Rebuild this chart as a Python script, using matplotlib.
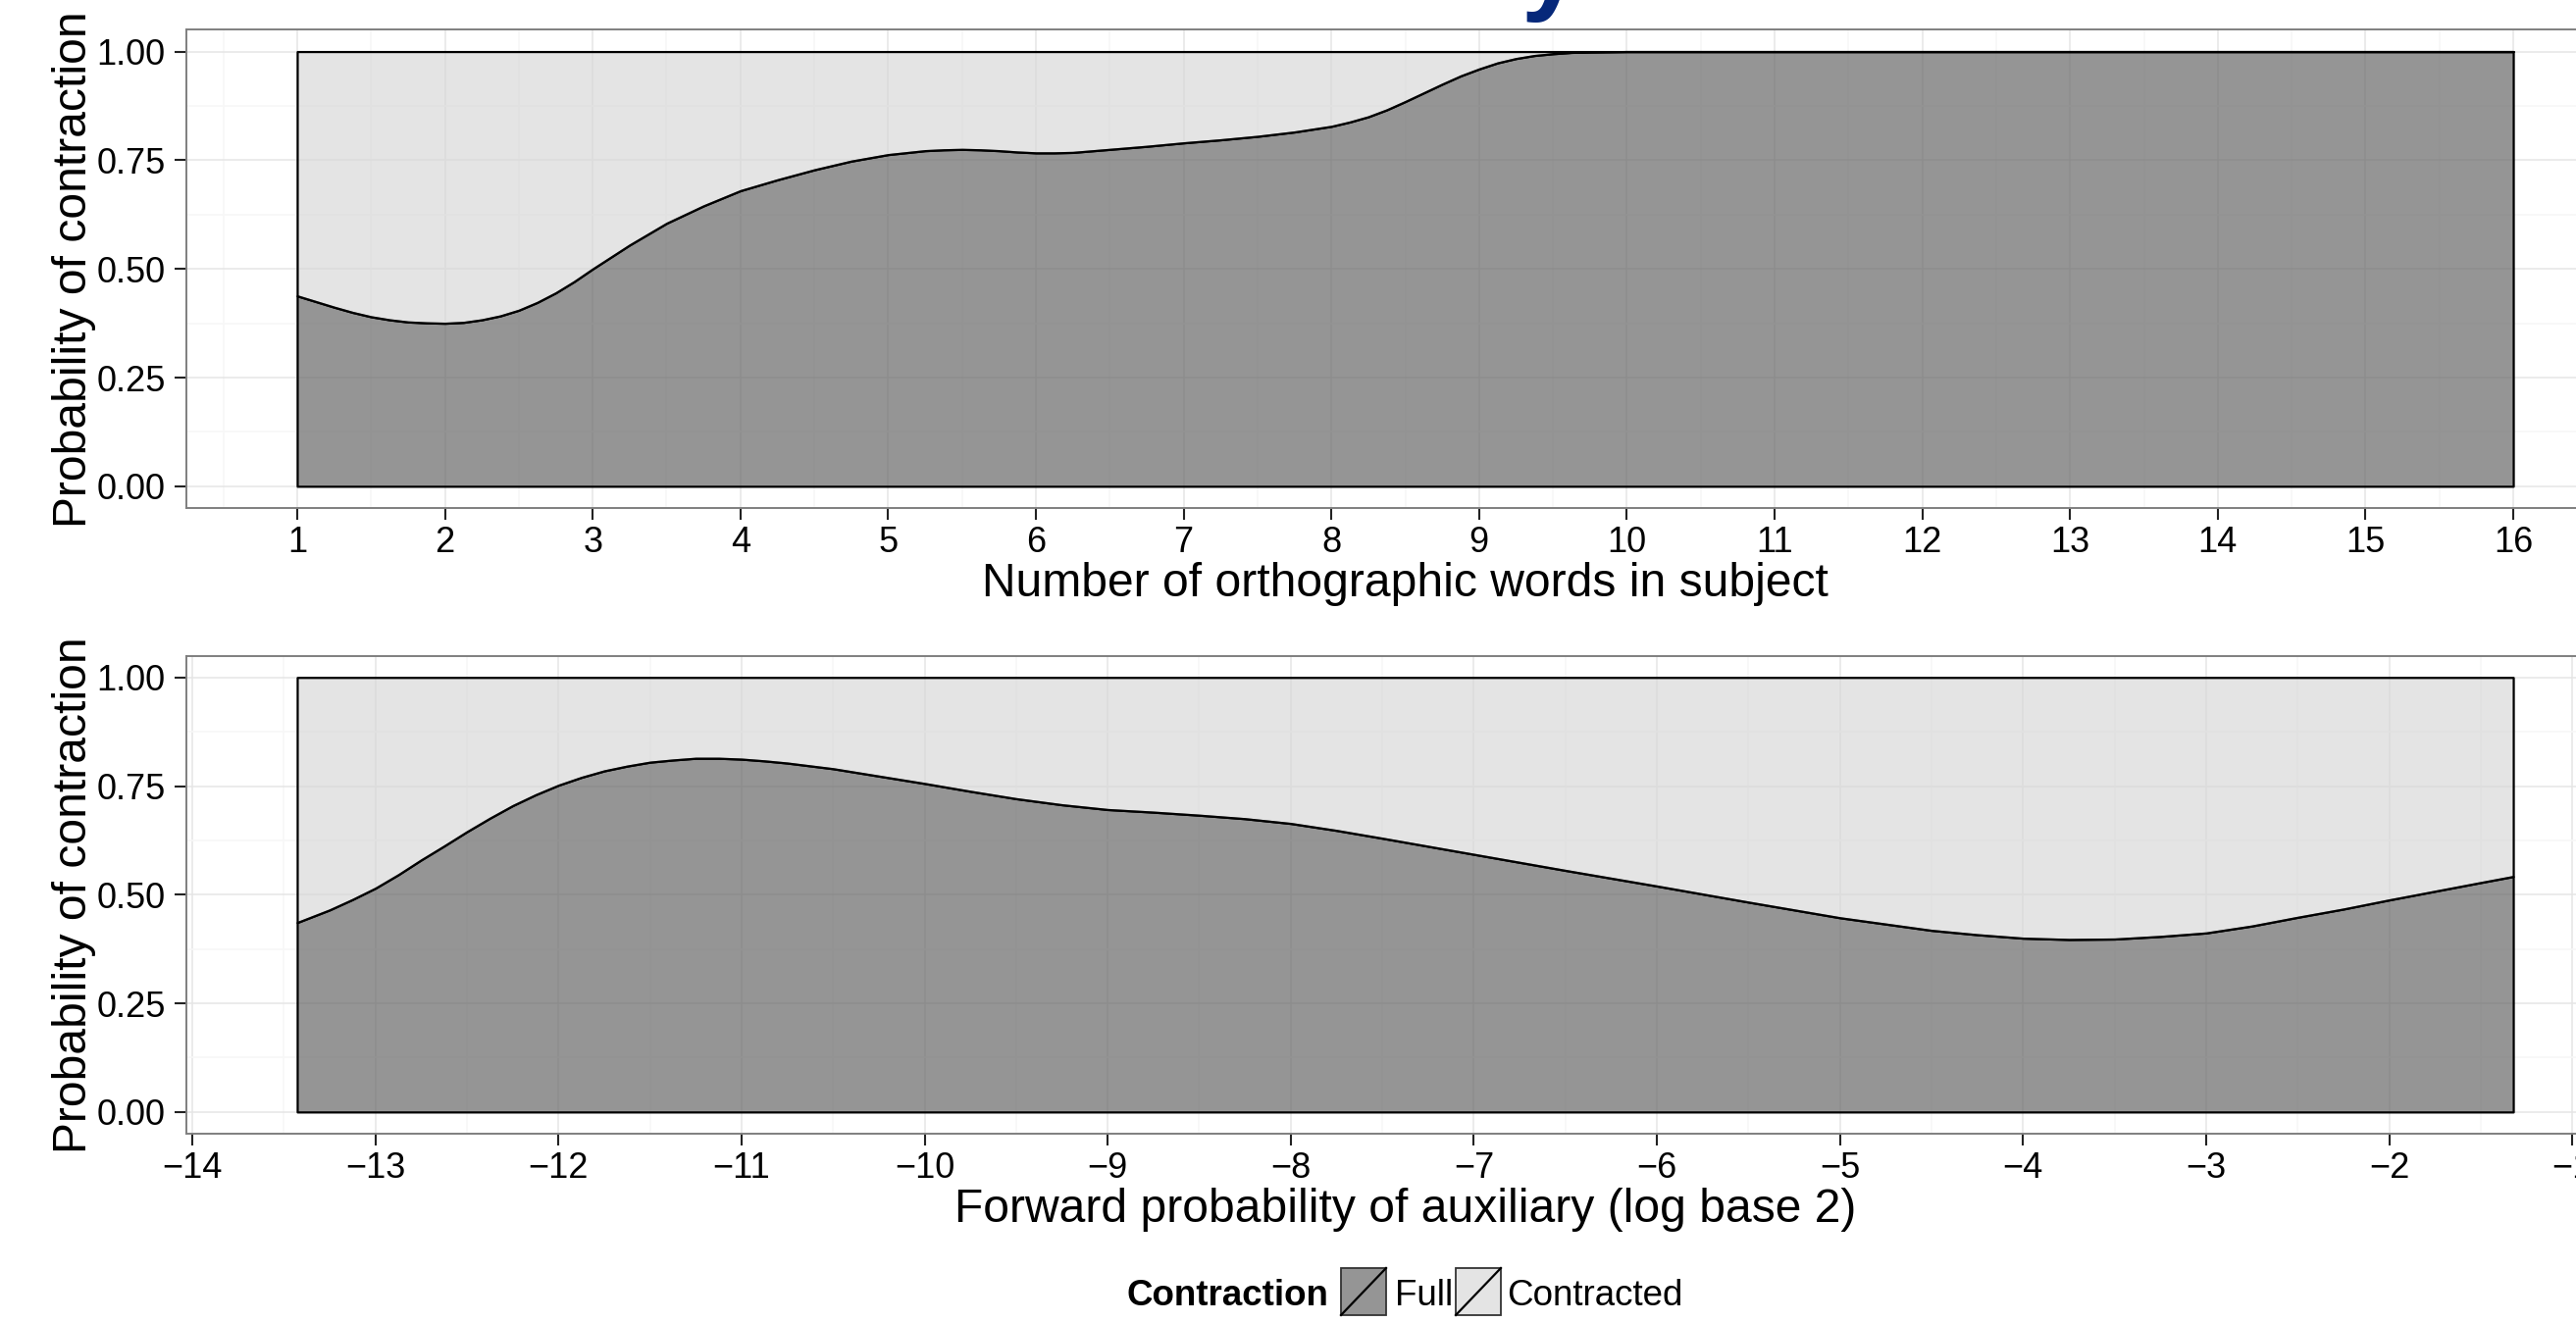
import matplotlib
matplotlib.use("Agg")
import matplotlib.pyplot as plt
from matplotlib.patches import Rectangle
from matplotlib.lines import Line2D
from matplotlib.ticker import MultipleLocator, FixedLocator, FormatStrFormatter

plt.rcParams['font.family'] = ['Liberation Sans', 'DejaVu Sans']
plt.rcParams['axes.unicode_minus'] = True

# ---------------- data ----------------
words_x = [1.0, 1.125, 1.25, 1.375, 1.5, 1.625, 1.75, 1.875, 2.0, 2.125,
           2.25, 2.375, 2.5, 2.625, 2.75, 2.875, 3.0, 3.25, 3.5, 3.75,
           4.0, 4.25, 4.5, 4.75, 5.0, 5.25, 5.375, 5.5, 5.625, 5.75, 5.875,
           6.0, 6.125, 6.25, 6.5, 6.75, 7.0, 7.25, 7.5, 7.75, 8.0, 8.125,
           8.25, 8.375, 8.5, 8.625, 8.75, 8.875, 9.0, 9.125, 9.25, 9.375,
           9.5, 9.625, 9.75, 10.0, 11.0, 12.0, 13.0, 14.0, 15.0, 16.0]
words_full = [0.438, 0.425, 0.412, 0.400, 0.390, 0.383, 0.378, 0.376, 0.375,
              0.377, 0.383, 0.392, 0.405, 0.423, 0.445, 0.471, 0.500, 0.555,
              0.605, 0.645, 0.680, 0.705, 0.728, 0.748, 0.763, 0.772, 0.774,
              0.775, 0.774, 0.772, 0.769, 0.767, 0.767, 0.768, 0.775, 0.782,
              0.790, 0.797, 0.805, 0.815, 0.828, 0.838, 0.850, 0.866, 0.885,
              0.905, 0.925, 0.944, 0.960, 0.974, 0.984, 0.991, 0.995, 0.998,
              0.999, 1.0, 1.0, 1.0, 1.0, 1.0, 1.0, 1.0]

fwd_x = [-13.427, -13.25, -13.125, -13.0, -12.875, -12.75, -12.625, -12.5,
         -12.375, -12.25, -12.125, -12.0, -11.875, -11.75, -11.625, -11.5,
         -11.375, -11.25, -11.125, -11.0, -10.875, -10.75, -10.5, -10.25,
         -10.0, -9.75, -9.5, -9.25, -9.0, -8.75, -8.5, -8.25, -8.0, -7.75,
         -7.5, -7.0, -6.5, -6.0, -5.5, -5.0, -4.5, -4.25, -4.0, -3.75, -3.5,
         -3.25, -3.0, -2.75, -2.5, -2.25, -2.0, -1.75, -1.5, -1.322]
fwd_full = [0.436, 0.465, 0.489, 0.515, 0.546, 0.580, 0.612, 0.645, 0.676,
            0.705, 0.730, 0.752, 0.770, 0.785, 0.796, 0.805, 0.810, 0.814,
            0.814, 0.812, 0.808, 0.803, 0.790, 0.773, 0.756, 0.738, 0.721,
            0.707, 0.696, 0.690, 0.683, 0.675, 0.664, 0.648, 0.630, 0.593,
            0.556, 0.520, 0.483, 0.447, 0.418, 0.408, 0.400, 0.397, 0.398,
            0.404, 0.412, 0.428, 0.448, 0.467, 0.488, 0.508, 0.528, 0.542]

y_ticks = [0.0, 0.25, 0.5, 0.75, 1.0]
words_ticks = list(range(1, 17))
fwd_ticks = list(range(-14, 0))
words_xlabel = "Number of orthographic words in subject"
fwd_xlabel = "Forward probability of auxiliary (log base 2)"
y_label = "Probability of contraction"
legend_title = "Contraction"
legend_labels = ["Full", "Contracted"]

# ---------------- style ----------------
W, H, DPI = 2626, 1348, 100
FULL_C = (0.40, 0.40, 0.40, 0.69)
CONTR_C = (0.847, 0.847, 0.847, 0.69)
TICK_FS = 26
LEG_FS = 26.5
TITLE_FS = 34.6

fig = plt.figure(figsize=(W / DPI, H / DPI), dpi=DPI)
fig.patch.set_facecolor('white')


def px_rect(left, top, right, bottom):
    return [left / W, 1 - bottom / H, (right - left) / W, (bottom - top) / H]


def panel(rect, xs, ys, xticks, xlabel):
    ax = fig.add_axes(rect)
    lo, hi = min(xs), max(xs)
    pad = 0.05 * (hi - lo)
    ax.set_xlim(lo - pad, hi + pad)
    ax.set_ylim(-0.05, 1.05)
    ax.set_axisbelow(True)
    ax.xaxis.set_major_locator(FixedLocator(xticks))
    ax.xaxis.set_minor_locator(MultipleLocator(0.5))
    ax.yaxis.set_major_locator(FixedLocator(y_ticks))
    ax.yaxis.set_minor_locator(MultipleLocator(0.125))
    ax.yaxis.set_major_formatter(FormatStrFormatter('%.2f'))
    ax.grid(which='major', color='#E5E5E5', lw=1.1)
    ax.grid(which='minor', color='#F7F7F7', lw=1.1)
    for s in ax.spines.values():
        s.set_color('#7F7F7F')
        s.set_linewidth(1.4)
    ax.tick_params(which='major', length=8.3, width=1.5, color='#222222',
                   labelsize=TICK_FS, labelcolor='black')
    ax.tick_params(axis='x', which='major', pad=5.0)
    ax.tick_params(axis='y', which='major', pad=7.0)
    ax.tick_params(which='minor', length=0)
    ax.fill_between(xs, 0, ys, facecolor=FULL_C, edgecolor='black', lw=1.6,
                    zorder=2)
    ax.fill_between(xs, ys, 1, facecolor=CONTR_C, edgecolor='black', lw=1.6,
                    zorder=2)
    ax.set_xlabel(xlabel, fontsize=TITLE_FS)
    ax.xaxis.label.set_va('baseline')
    ax.xaxis.set_label_coords(0.5, -0.1846)
    ax.set_ylabel(y_label, fontsize=TITLE_FS)
    ax.yaxis.label.set_va('baseline')
    ax.yaxis.set_label_coords(-0.0411, 0.5)
    return ax


panel(px_rect(190, 30.4, 2675, 518), words_x, words_full, words_ticks,
      words_xlabel)
panel(px_rect(190, 668.6, 2675, 1156), fwd_x, fwd_full, fwd_ticks,
      fwd_xlabel)

# cropped title remnant at the very top
fig.text(1550 / W, 1.0, "y", fontsize=79, fontweight='bold', color='#06287A',
         ha='left', va='baseline')

# ---------------- legend ----------------
def fx(x):
    return x / W


def fy(y):
    return 1 - y / H


fig.text(fx(1149), fy(1331), legend_title, fontsize=LEG_FS,
         fontweight='bold', va='baseline', ha='left')
key_lefts = [1367, 1484]
text_lefts = [1422, 1536]
for kl, tl, lab, col in zip(key_lefts, text_lefts, legend_labels,
                            [FULL_C, CONTR_C]):
    fig.add_artist(Rectangle((fx(kl), fy(1341)), 46 / W, 48 / H,
                             transform=fig.transFigure, facecolor=col,
                             edgecolor='#333333', lw=1.3))
    fig.add_artist(Line2D([fx(kl), fx(kl + 46)], [fy(1341), fy(1293)],
                          transform=fig.transFigure, color='black', lw=1.6))
    fig.text(fx(tl), fy(1331), lab, fontsize=LEG_FS, va='baseline',
             ha='left')

fig.savefig("out.png", dpi=DPI, facecolor='white')
